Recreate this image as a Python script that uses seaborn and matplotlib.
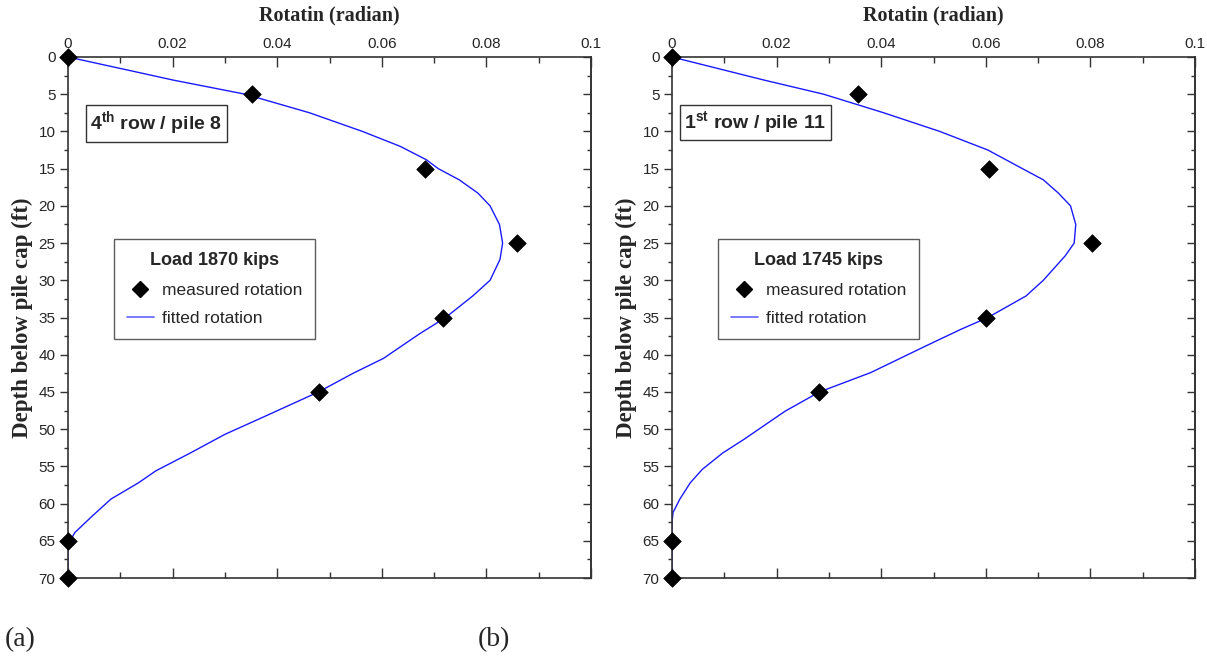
import numpy as np
import pandas as pd
import matplotlib
matplotlib.use("Agg")
import matplotlib.pyplot as plt
from matplotlib.lines import Line2D
from matplotlib.ticker import MultipleLocator, FuncFormatter
import seaborn as sns

# ---------------- data ----------------
meas_depth = [0, 5, 15, 25, 35, 45, 65, 70]
meas_rot_a = [0.0, 0.0351, 0.0683, 0.0858, 0.0717, 0.0479, 0.0, 0.0]
meas_rot_b = [0.0, 0.0356, 0.0607, 0.0804, 0.0600, 0.0282, 0.0, 0.0]

fit_depth_a = [0, 1, 2, 3.1, 5, 7.5, 10, 12, 13.8, 15, 16.5, 18.3, 20, 22.5, 25,
               27.2, 30, 32.1, 35, 37.2, 40.5, 42.5, 45, 48.2, 50.7, 53.2, 55.6,
               57.2, 59.4, 61.7, 63.9, 65.5, 70]
fit_rot_a = [0.0, 0.0065, 0.013, 0.0201, 0.0339, 0.0462, 0.0563, 0.0635, 0.0685,
             0.0708, 0.0748, 0.0784, 0.0807, 0.0825, 0.0831, 0.0826, 0.0807, 0.0774,
             0.0722, 0.0672, 0.0603, 0.0545, 0.0479, 0.0379, 0.0300, 0.0234, 0.0168,
             0.0135, 0.0082, 0.0046, 0.0013, 0.0, 0.0]

fit_depth_b = [0, 3.1, 5, 7.5, 10, 12.5, 15, 16.5, 18.3, 20, 22.5, 25, 26.7, 30,
               32.1, 35, 36.6, 38.8, 42.4, 45, 47.6, 51.4, 53.2, 55.4, 57.2, 59.4,
               61.2, 62.5, 65, 70]
fit_rot_b = [0.0, 0.0176, 0.029, 0.0405, 0.0512, 0.0604, 0.067, 0.071, 0.0739,
             0.0762, 0.0772, 0.0769, 0.0752, 0.071, 0.0677, 0.0604, 0.0552, 0.0486,
             0.038, 0.0282, 0.0216, 0.0137, 0.0097, 0.0058, 0.0035, 0.0015, 0.0002,
             0.0, 0.0, 0.0]

panel_labels = ["(a)", "(b)"]
box_texts = [r"4$^{\mathbf{th}}$ row / pile 8", r"1$^{\mathbf{st}}$ row / pile 11"]
legend_titles = ["Load 1870 kips", "Load 1745 kips"]
legend_labels = ["measured rotation", "fitted rotation"]
x_title = "Rotatin (radian)"
y_title = "Depth below pile cap (ft)"

# ---------------- style ----------------
sns.set_theme(style="white")
plt.rcParams["font.family"] = ["Liberation Sans", "DejaVu Sans"]
plt.rcParams["mathtext.fontset"] = "custom"
plt.rcParams["mathtext.rm"] = "Liberation Sans"
plt.rcParams["mathtext.bf"] = "Liberation Sans:bold"

fig = plt.figure(figsize=(12.07, 6.59), dpi=100)
W, H = 1207, 659
AX_TOP, AX_BOT = 57, 578
AX_W = 523

def fax(x0, x1, y0, y1):
    return [x0 / W, 1 - y1 / H, (x1 - x0) / W, (y1 - y0) / H]

ax_left = [68, 672]
axes = [fig.add_axes(fax(x0, x0 + AX_W, AX_TOP, AX_BOT)) for x0 in ax_left]

panels = [
    (meas_rot_a, fit_depth_a, fit_rot_a),
    (meas_rot_b, fit_depth_b, fit_rot_b),
]
box_px = [85, 679]      # left edge of the text box frame (px)
leg_px = [114, 718]     # left edge of the legend frame (px)
serif = ["Liberation Serif", "DejaVu Serif"]

def ax_fx(i, px):
    return (px - ax_left[i]) / AX_W

def ax_fy(py):
    return 1 - (py - AX_TOP) / (AX_BOT - AX_TOP)

for i, ax in enumerate(axes):
    mrot, fdep, frot = panels[i]
    dfm = pd.DataFrame({"rot": mrot, "depth": meas_depth})
    dff = pd.DataFrame({"rot": frot, "depth": fdep})
    sns.lineplot(data=dff, x="rot", y="depth", sort=False, estimator=None,
                 color="#1a1aff", linewidth=1.0, ax=ax, zorder=2)
    sns.scatterplot(data=dfm, x="rot", y="depth", marker="D", s=80, color="black",
                    edgecolor="black", linewidth=0.5, ax=ax, zorder=3, clip_on=False)

    ax.set_xlim(0, 0.1)
    ax.set_ylim(70, 0)
    ax.xaxis.set_major_locator(MultipleLocator(0.02))
    ax.xaxis.set_minor_locator(MultipleLocator(0.01))
    ax.yaxis.set_major_locator(MultipleLocator(5))
    ax.yaxis.set_minor_locator(MultipleLocator(2.5))
    ax.xaxis.set_major_formatter(FuncFormatter(
        lambda v, p: "0" if abs(v) < 1e-9 else ("0.1" if abs(v - 0.1) < 1e-9 else f"{v:.2f}")))
    ax.xaxis.tick_top()
    ax.tick_params(axis="x", which="both", top=True, bottom=True, direction="in",
                   labeltop=True, labelbottom=False, labelsize=11, color="#333333", pad=4)
    ax.tick_params(axis="x", which="major", length=7, width=1)
    ax.tick_params(axis="x", which="minor", length=4, width=1)
    ax.tick_params(axis="y", which="both", left=True, right=False, direction="out",
                   labelsize=11, color="#333333", pad=3)
    ax.tick_params(axis="y", which="major", length=6, width=1)
    ax.tick_params(axis="y", which="minor", length=3, width=1)
    sec = ax.secondary_yaxis("right")
    sec.yaxis.set_major_locator(MultipleLocator(5))
    sec.yaxis.set_minor_locator(MultipleLocator(2.5))
    sec.tick_params(axis="y", which="both", direction="in", labelright=False, color="#333333")
    sec.tick_params(axis="y", which="major", length=6, width=1)
    sec.tick_params(axis="y", which="minor", length=3, width=1)
    sec.spines["right"].set_color("#333333")
    sec.spines["right"].set_linewidth(1.2)

    for sp in ax.spines.values():
        sp.set_color("#333333")
        sp.set_linewidth(1.2)
        sp.set_visible(True)

    ax.xaxis.set_label_position("top")
    ax.set_xlabel(x_title, fontsize=14.5, fontweight="bold", family=serif, labelpad=12)
    ax.set_ylabel(y_title, fontsize=16.5, fontweight="bold", family=serif, labelpad=4)

    fs_box = 14
    pad_px = 0.22 * fs_box * 100 / 72
    ax.text(ax_fx(i, box_px[i] + pad_px + 1), ax_fy(104 + pad_px + 1), box_texts[i],
            transform=ax.transAxes, fontsize=fs_box, fontweight="bold", va="top", ha="left",
            bbox=dict(boxstyle="square,pad=0.22", facecolor="white",
                      edgecolor="#333333", linewidth=1))

    handles = [
        Line2D([], [], marker="D", color="black", linestyle="none", markersize=8.5),
        Line2D([], [], color="#7070ff", linewidth=1.3),
    ]
    leg = ax.legend(handles, legend_labels,
                    title=legend_titles[i], loc="upper left",
                    bbox_to_anchor=(ax_fx(i, leg_px[i]), ax_fy(239)), borderaxespad=0,
                    fontsize=12.5, title_fontproperties={"weight": "bold", "size": 13},
                    frameon=True, fancybox=False, edgecolor="#333333",
                    handlelength=1.55, handletextpad=0.45, borderpad=0.75,
                    labelspacing=0.72)
    leg.get_frame().set_linewidth(1)
    leg._legend_box.sep = 10

fig.text(5 / W, 1 - 640 / H, panel_labels[0], fontsize=20, family=serif,
         va="center", ha="left")
fig.text(478 / W, 1 - 640 / H, panel_labels[1], fontsize=20, family=serif,
         va="center", ha="left")

fig.savefig("out.png", dpi=100)
